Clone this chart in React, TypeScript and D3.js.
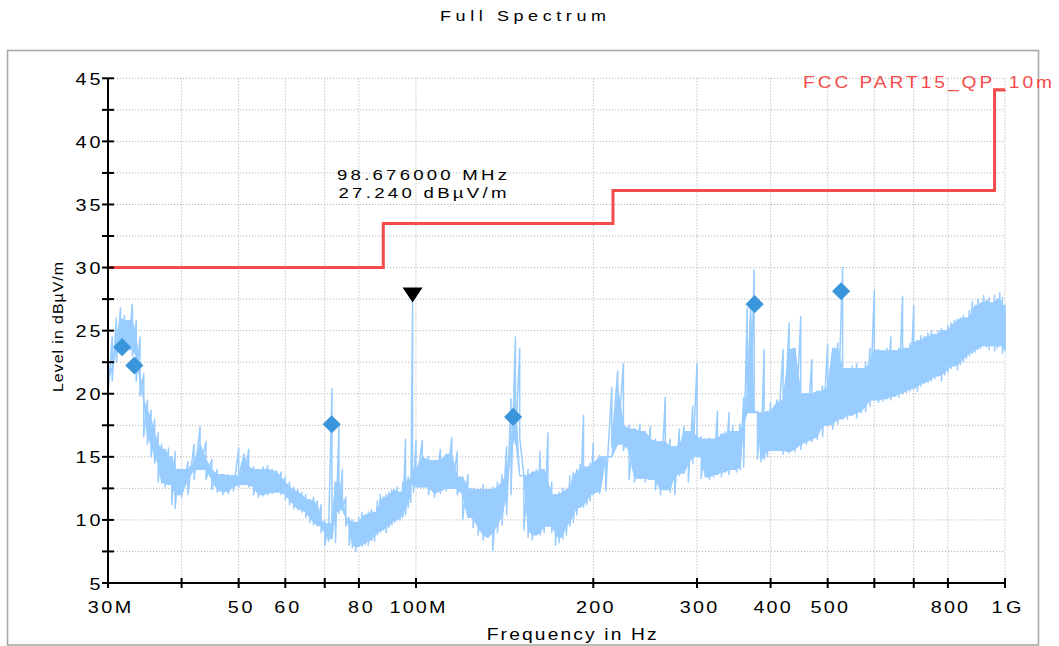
import React from 'react';
import * as d3 from 'd3';

// ---------- data ----------
const traceFreq = [
  30, 30.5, 31, 31.5, 32, 32.5, 33, 33.5, 34, 34.5, 35, 35.5, 36, 36.5, 37, 37.5, 38, 38.5, 39, 39.5,
  40, 41, 42, 43, 44, 45, 46, 47, 48, 49, 50, 51, 52, 53, 54, 55, 56, 57, 58, 59,
  60, 61, 62, 63, 64, 65, 66, 67, 68, 69, 70, 71, 72, 73, 74, 75, 76, 77, 78, 79, 80, 81, 82, 83, 84, 85, 86, 87, 88, 89, 90, 91, 92, 93, 94, 95, 96, 97, 98, 98.676, 99,
  100, 102.5, 105, 107.5, 110, 112.5, 115, 117.5, 120, 122.5, 125, 127.5, 130, 132.5, 135, 137.5, 140, 142.5, 145, 147.5, 150, 152.5, 155, 157.5, 160, 162.5, 165, 167.5, 170, 172.5, 175, 177.5, 180, 182.5, 185, 187.5, 190, 192.5, 195, 197.5,
  200, 205, 210, 215, 220, 225, 230, 235, 240, 245, 250, 255, 260, 265, 270, 275, 280, 285, 290, 295, 300, 305, 310, 315, 320, 325, 330, 335, 340, 345, 350, 355, 360, 365, 370, 375, 380, 385, 390, 395,
  400, 410, 420, 430, 440, 450, 460, 470, 480, 490, 500, 510, 520, 530, 540, 550, 560, 570, 580, 590,
  600, 610, 620, 630, 640, 650, 660, 670, 680, 690, 700, 710, 720, 730, 740, 750, 760, 770, 780, 790,
  800, 810, 820, 830, 840, 850, 860, 870, 880, 890, 900, 910, 920, 930, 940, 950, 960, 970, 980, 990, 1000,
];
const traceHi = [
  22, 24.5, 26, 26.8, 26.2, 25.8, 27.1, 25.8, 24.5, 21.6, 19.5, 18.7, 18, 16.9, 16, 15.6, 15.7, 15, 15.4, 14,
  14, 14.6, 16, 17.4, 16.2, 14.8, 14, 13.6, 13.6, 13.5, 15.7, 15.2, 15.6, 14.2, 14, 14.2, 14.3, 14, 13.9, 13.8,
  13.4, 13, 12.6, 12.4, 12.2, 12, 11.6, 11.8, 11.5, 11.2, 10, 9.7, 20.4, 13, 17.4, 14, 11.8, 10.2, 10, 9.8, 10.2, 10.6, 10.4, 10.6, 10.8, 10.6, 11.5, 12, 11.8, 12, 12.2, 12.4, 12.4, 12.6, 12.2, 13, 16.4, 13.4, 13.2, 27.24, 14,
  16.3, 16.3, 15, 14.7, 15.6, 15.2, 16.5, 15.4, 13.4, 13.6, 12.5, 12.4, 12.8, 12.4, 12.6, 13, 13.6, 15.8, 19.6, 24.5, 23.6, 13.5, 14, 13.8, 14, 15.4, 14, 16.9, 13, 12, 12.2, 12.5, 12.4, 13.5, 13.8, 14, 14.4, 18.3, 14.2, 14.5,
  16.1, 15.1, 15, 20.5, 21.8, 22.4, 17.5, 17.2, 17.6, 17, 17.4, 16.4, 16.2, 19.7, 16.4, 15.8, 17.2, 17.4, 17, 19, 22.4, 16.6, 16.4, 16.5, 16.4, 18.6, 16.8, 17, 18.5, 17.5, 17, 17.6, 19.7, 26.8, 27, 29.8, 18.6, 18.5, 23.5, 18.6,
  19.3, 19.5, 23.5, 25.6, 23.6, 26.1, 20, 22.7, 20.2, 20.6, 23.9, 23.6, 24, 30, 22, 22.2, 22.4, 22, 22.5, 23.6,
  28.2, 23.5, 23.4, 23.6, 24.5, 23.4, 23.6, 27.7, 23.6, 24, 27, 24.2, 24.6, 24.5, 24.8, 25, 24.7, 25, 25.2, 25,
  25.4, 25.6, 25.8, 25.9, 26, 26.2, 26, 26.6, 27.3, 27, 27.5, 27.2, 27.8, 27.4, 27.6, 27.2, 27.8, 27.5, 28, 27.6, 27,
];
const traceLo = [
  20, 21, 22.5, 23.5, 23.2, 23.5, 23, 21, 19.8, 16.6, 16, 15, 14.5, 13, 12.9, 12.6, 12.8, 11.2, 10.9, 12,
  11.8, 12, 13.2, 14, 13.2, 12.4, 12.2, 12, 12.1, 12.3, 12.6, 12.8, 12.6, 12, 11.8, 11.9, 12, 12.1, 12.2, 12,
  11.6, 11.2, 10.9, 10.8, 10.6, 10.2, 9.8, 9.6, 9.5, 9, 8, 8.3, 8.5, 8.2, 10.5, 10.8, 9.5, 8, 7.8, 7.5, 7.9, 7.9, 8.1, 8, 8.4, 8.3, 8.8, 9, 9.2, 9, 9.4, 9.6, 9.8, 10, 10, 10.2, 10.4, 11, 11.4, 12.8, 12.2,
  12.6, 12.6, 12, 11.8, 12.1, 12.3, 12.5, 12, 10, 10.2, 9.4, 8.8, 8.4, 8.6, 7.5, 9, 9.6, 10.4, 12, 16, 16.5, 9.2, 8.6, 8.4, 8.8, 8.8, 9, 9.5, 9, 8, 8.2, 8.5, 8.8, 9.5, 9.8, 10.4, 11, 11, 11.2, 11.5,
  12, 12.1, 12.3, 15.8, 16, 15.5, 13.2, 13, 13.3, 13, 13.2, 12.4, 12, 12.4, 12.2, 12, 13.5, 13.7, 13, 14.5, 15, 13.3, 13.4, 13.2, 13.4, 13.6, 13.4, 13.8, 13.6, 14, 13.8, 14, 14.2, 18.5, 18.5, 18.5, 14.8, 14.6, 14.8, 15,
  15.5, 15.5, 15.2, 15.3, 15.4, 15.6, 16, 16.2, 16.4, 16.6, 17.5, 17.2, 17.6, 18, 18, 18.3, 18.1, 18.5, 18.6, 19,
  19.5, 19.3, 19.4, 19.6, 19.5, 19.8, 19.7, 20, 20.1, 20.2, 20.4, 20.2, 20.6, 20.8, 20.9, 21, 21.2, 21.4, 21, 21.5,
  21.7, 22, 22.2, 21.9, 22.3, 22.5, 22.8, 23, 23.2, 23.3, 23.5, 23.6, 23.8, 23.7, 23.5, 23.8, 23.4, 23.6, 23.8, 23.2, 23.4,
];

const limitFreq = [30, 88, 88, 216, 216, 960, 960, 1000];
const limitLevel = [30, 30, 33.5, 33.5, 36.1, 36.1, 44.1, 44.1];

const markerFreq = [31.7, 33.26, 71.94, 146.2, 375.8, 527.0];
const markerLevel = [23.69, 22.24, 17.58, 18.16, 27.1, 28.12];

const peakFreq = 98.676;
const peakLevel = 27.24;

const xTickValues = [30, 40, 50, 60, 70, 80, 100, 200, 300, 400, 500, 600, 700, 800, 1000];
const xGridValues = [40, 50, 60, 70, 80, 100, 200, 300, 400, 500, 600, 700, 800, 1000];
const xLabelValues = [30, 50, 60, 80, 100, 200, 300, 400, 500, 800, 1000];
const xLabelTexts = ['30M', '50', '60', '80', '100M', '200', '300', '400', '500', '800', '1G'];
const yTickValues = [5, 7.5, 10, 12.5, 15, 17.5, 20, 22.5, 25, 27.5, 30, 32.5, 35, 37.5, 40, 42.5, 45];
const yLabelValues = [5, 10, 15, 20, 25, 30, 35, 40, 45];

const titleText = 'Full Spectrum';
const xAxisTitle = 'Frequency in Hz';
const yAxisTitle = 'Level in dBµV/m';
const limitName = 'FCC PART15_QP_10m';
const peakFreqText = '98.676000 MHz';
const peakLevelText = '27.240 dBµV/m';

// ---------- helpers ----------
const ADV: Record<string, number> = {
  '0': 0.556, '1': 0.556, '2': 0.556, '3': 0.556, '4': 0.556, '5': 0.556, '6': 0.556, '7': 0.556, '8': 0.556, '9': 0.556,
  M: 0.833, G: 0.778, '.': 0.278,
};
const textLen = (s: string, fs: number, k: number) =>
  s.split('').reduce((a, c) => a + (ADV[c] ?? 0.556), 0) * fs * k;

const FONT = '"Liberation Sans", Arial, sans-serif';
const RED = '#f24b4b';
const TRACE = '#99ccff';
const DIAMOND = '#3b95db';
const GRID = '#b8b8b8';

type STProps = {
  x: number; y: number; fs: number; width: number; sx?: number;
  anchor?: 'start' | 'middle' | 'end'; fill?: string; rotate?: number; children: string;
};
function SText({ x, y, fs, width, sx = 1.2, anchor = 'start', fill = '#000', rotate = 0, children }: STProps) {
  return (
    <text
      transform={`translate(${x},${y}) rotate(${rotate}) scale(${sx},1)`}
      fontSize={fs}
      textAnchor={anchor}
      fill={fill}
      textLength={width / sx}
      lengthAdjust="spacing"
    >
      {children}
    </text>
  );
}

export default function App() {
  const x = d3.scaleLog().domain([30, 1000]).range([108, 1005]);
  const y = d3.scaleLinear().domain([5, 45]).range([583, 78.3]);

  const n = traceFreq.length;
  const coreHi = traceHi.map((h, i) =>
    Math.min(h, traceHi[Math.max(0, i - 1)], traceHi[Math.min(n - 1, i + 1)]));
  const coreLo = traceLo.map((l, i) =>
    Math.min(coreHi[i], Math.max(l, traceLo[Math.max(0, i - 1)], traceLo[Math.min(n - 1, i + 1)])));

  const bandPath =
    d3.area<number>()
      .x((f) => x(f))
      .y0((_, i) => y(coreLo[i]))
      .y1((_, i) => y(coreHi[i]))(traceFreq) || '';

  const pts: [number, number][] = [];
  traceFreq.forEach((f, i) => {
    pts.push([x(f), y(traceHi[i])]);
    pts.push([x(f), y(traceLo[i])]);
  });
  const sweepPath = d3.line()(pts) || '';

  const limitPath =
    d3.line<number>()
      .x((f) => x(f))
      .y((_, i) => y(limitLevel[i]))(limitFreq) || '';

  const diamond = d3.symbol(d3.symbolSquare, 165)() || '';

  const px = x(peakFreq);
  const py = y(peakLevel);

  const tickFs = 16.5;

  return (
    <svg
      width={1059}
      height={646}
      style={{ position: 'absolute', left: 0, top: 0, background: '#fff' }}
      fontFamily={FONT}
    >
      <rect x={0} y={0} width={1059} height={646} fill="#fff" />
      {/* frame */}
      <rect x={7.5} y={50.5} width={1031} height={594.5} fill="none" stroke="#a9a9a9" strokeWidth={1.6} />

      {/* title */}
      <SText x={523} y={21} fs={15} width={166} anchor="middle">{titleText}</SText>

      {/* grid */}
      <g stroke={GRID} strokeWidth={1} strokeDasharray="1.2,1.8">
        {yTickValues.filter((v) => v > 5).map((v) => (
          <line key={'gy' + v} x1={108} x2={1005} y1={y(v)} y2={y(v)} />
        ))}
        {xGridValues.map((v) => (
          <line key={'gx' + v} x1={x(v)} x2={x(v)} y1={y(45)} y2={y(5)} />
        ))}
      </g>

      {/* trace */}
      <path d={bandPath} fill={TRACE} stroke={TRACE} strokeWidth={1} />
      <path d={sweepPath} fill="none" stroke={TRACE} strokeWidth={1.5} strokeLinejoin="round" />

      {/* limit line */}
      <path d={limitPath} fill="none" stroke={RED} strokeWidth={3} />
      <SText x={803} y={87.7} fs={16} width={249} fill={RED}>{limitName}</SText>

      {/* axes */}
      <line x1={108} x2={108} y1={y(45)} y2={y(5)} stroke="#000" strokeWidth={2} />
      <line x1={108} x2={1005} y1={y(5)} y2={y(5)} stroke="#000" strokeWidth={2} />
      {yTickValues.map((v) => (
        <line key={'ty' + v} x1={102} x2={114} y1={y(v)} y2={y(v)} stroke="#000" strokeWidth={2} />
      ))}
      {xTickValues.map((v) => (
        <line key={'tx' + v} x1={x(v)} x2={x(v)} y1={578} y2={588} stroke="#000" strokeWidth={2} />
      ))}
      {yLabelValues.map((v) => {
        const s = String(v);
        return (
          <SText key={'ly' + v} x={100.5} y={y(v) + 6.5} fs={tickFs} width={textLen(s, tickFs, 1.36)} anchor="end">
            {s}
          </SText>
        );
      })}
      {xLabelValues.map((v, i) => {
        const s = xLabelTexts[i];
        return (
          <SText key={'lx' + v} x={x(v) + 1.5} y={612.5} fs={tickFs} width={textLen(s, tickFs, 1.36)} anchor="middle">
            {s}
          </SText>
        );
      })}

      {/* axis titles */}
      <SText x={571.7} y={640} fs={16} width={170} anchor="middle">{xAxisTitle}</SText>
      <SText x={63} y={327} fs={14.5} width={130} sx={1.1} anchor="middle" rotate={-90}>{yAxisTitle}</SText>

      {/* markers */}
      {markerFreq.map((f, i) => (
        <path key={'m' + i} d={diamond} fill={DIAMOND}
          transform={`translate(${x(f)},${y(markerLevel[i])}) rotate(45)`} />
      ))}
      <path d={`M${px - 10},${py - 15}L${px + 10},${py - 15}L${px},${py}Z`} fill="#000" />

      {/* peak annotation */}
      <SText x={337} y={179.5} fs={15.5} width={170}>{peakFreqText}</SText>
      <SText x={338.5} y={198} fs={15.5} width={168}>{peakLevelText}</SText>
    </svg>
  );
}
